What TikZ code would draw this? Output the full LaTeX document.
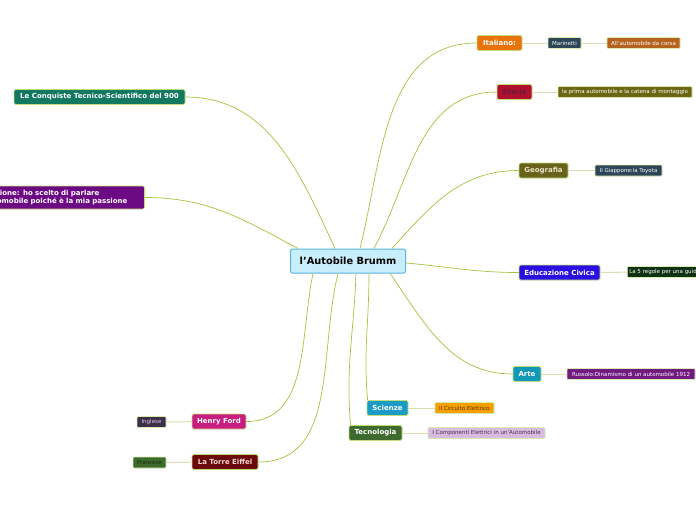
\documentclass[tikz,border=0pt]{standalone}
\usepackage{fontspec}
\setmainfont{DejaVu Sans}
\definecolor{rootfill}{HTML}{C8EEFC}\definecolor{rootline}{HTML}{5AB4E0}
\definecolor{rim}{HTML}{C0DC78}\definecolor{branchc}{HTML}{A0C43C}\definecolor{twigc}{HTML}{DCDCB0}
\definecolor{italianoc}{HTML}{E8730C}\definecolor{slatec}{HTML}{2C4658}\definecolor{corsac}{HTML}{B4621E}
\definecolor{storiac}{HTML}{B01030}\definecolor{storiat}{HTML}{6A1838}\definecolor{montaggioc}{HTML}{6B6612}
\definecolor{geografiac}{HTML}{68621A}\definecolor{geografiat}{HTML}{E8E4C8}
\definecolor{civicac}{HTML}{2A10E0}\definecolor{regolec}{HTML}{0E3212}
\definecolor{artec}{HTML}{1498B8}\definecolor{russoloc}{HTML}{701A82}
\definecolor{scienzec}{HTML}{1A9CC4}\definecolor{circuitoc}{HTML}{F4A000}\definecolor{circuitot}{HTML}{603000}
\definecolor{tecnologiac}{HTML}{3E6A30}\definecolor{componentic}{HTML}{D8BCE0}\definecolor{componentit}{HTML}{50285A}
\definecolor{fordc}{HTML}{C81C80}\definecolor{inglesec}{HTML}{3E2E4A}\definecolor{ingleset}{HTML}{D8D0E0}
\definecolor{torrec}{HTML}{6C0A0A}\definecolor{torret}{HTML}{F0D8D8}
\definecolor{francesec}{HTML}{3E6A2C}\definecolor{franceset}{HTML}{1A2A10}
\definecolor{conquistec}{HTML}{127860}\definecolor{introc}{HTML}{6C0A84}
\tikzset{
  root/.style={draw=rootline,fill=rootfill,line width=1pt,rounded corners=2pt,minimum width=115pt,minimum height=24pt,inner sep=2pt,font=\fontsize{9.8}{11}\selectfont\bfseries},
  topic/.style={draw=rim,fill=#1,line width=0.8pt,rounded corners=1.5pt,minimum height=15pt,inner xsep=3pt,inner ysep=1pt,text=white,font=\fontsize{7}{8}\selectfont\bfseries},
  leaf/.style={draw=rim!60,fill=#1,line width=0.6pt,rounded corners=1pt,minimum height=11pt,inner xsep=2pt,inner ysep=1pt,text=white,font=\fontsize{5.5}{6}\selectfont},
  branch/.style={draw=branchc,line width=0.7pt},
  twig/.style={draw=twigc,line width=1pt}
}
\begin{document}
\begin{tikzpicture}[x=1pt,y=-1pt]
\useasboundingbox (0,0) rectangle (696,520);
\node[root] (brumm) at (348,261) {l'Autobile Brumm};
% right side
\node[topic=italianoc,minimum width=45pt] (italiano) at (499.5,43) {Italiano:};
\node[leaf=slatec,minimum width=33pt] (marinetti) at (564.5,43) {Marinetti};
\node[leaf=corsac,minimum width=73pt] (corsa) at (643.5,43) {All'automobile da corsa};
\node[topic=storiac,text=storiat,minimum width=35pt] (storia) at (514.5,92) {Storia};
\node[leaf=montaggioc,minimum width=134pt] (montaggio) at (625,92) {la prima automobile e la catena di montaggio};
\node[topic=geografiac,text=geografiat,minimum width=49pt] (geografia) at (543.5,170.5) {Geografia};
\node[leaf=slatec,minimum width=67pt] (giappone) at (628.5,170.5) {Il Giappone:la Toyota};
\node[topic=civicac,minimum width=81pt] (civica) at (559.5,272.5) {Educazione Civica};
\node[leaf=regolec,anchor=west] (regole) at (627,272) {La 5 regole per una guida sicura};
\node[topic=artec,minimum width=28pt] (arte) at (527,374) {Arte};
\node[leaf=russoloc,minimum width=128pt] (russolo) at (631,374) {Russolo:Dinamismo di un automobile 1912};
\node[topic=scienzec,minimum width=41pt] (scienze) at (387.5,408) {Scienze};
\node[leaf=circuitoc,text=circuitot,minimum width=59pt] (circuito) at (464.5,408) {Il Circuito Elettrico};
\node[topic=tecnologiac,minimum width=53pt] (tecnologia) at (375.5,433) {Tecnologia};
\node[leaf=componentic,text=componentit,minimum width=117pt] (componenti) at (486.5,433) {I Componenti Elettrici in un'Automobile};
% left side
\node[topic=fordc,minimum width=54pt] (ford) at (219,421.5) {Henry Ford};
\node[leaf=inglesec,text=ingleset,minimum width=29pt] (inglese) at (151.5,422) {Inglese};
\node[topic=torrec,text=torret,minimum width=66pt] (torre) at (225,462) {La Torre Eiffel};
\node[leaf=francesec,text=franceset,minimum width=33pt] (francese) at (149.5,462.5) {Francese};
\node[topic=conquistec,minimum width=171pt] (conquiste) at (99.5,97) {Le Conquiste Tecnico-Scientifico del 900};
\node[topic=introc,anchor=east,align=left,text width=174pt,minimum height=23pt,inner xsep=4pt,inner ysep=2pt] (intro) at (145,197.5) {Introduzione: ho scelto di parlare\\dell'automobile poiché è la mia passione};
% branches
\draw[branch] ([xshift=12pt]brumm.north) to[out=76,in=180] (italiano.west);
\draw[branch] ([xshift=26pt]brumm.north) to[out=62,in=180] (storia.west);
\draw[branch] ([xshift=44pt]brumm.north) to[out=48,in=180] (geografia.west);
\draw[branch] ([yshift=-2pt]brumm.east) to[out=-5,in=180] (civica.west);
\draw[branch] ([xshift=42pt]brumm.south) to[out=-55,in=180] (arte.west);
\draw[branch] ([xshift=21pt]brumm.south) to[out=-90,in=95] ([xshift=1pt]scienze.north west);
\draw[branch] ([xshift=8pt]brumm.south) to[out=-92,in=95] ([xshift=2pt]tecnologia.north west);
\draw[branch] ([xshift=-35pt]brumm.south) to[out=-102,in=0] (ford.east);
\draw[branch] ([xshift=-10pt]brumm.south) to[out=-104,in=0] (torre.east);
\draw[branch] ([xshift=-13pt]brumm.north) to[out=115,in=0] (conquiste.east);
\draw[branch] ([xshift=-50pt]brumm.north) to[out=152,in=0] (intro.east);
% twigs
\draw[twig] (italiano) -- (marinetti);
\draw[twig] (marinetti) -- (corsa);
\draw[twig] (storia) -- (montaggio);
\draw[twig] (geografia) -- (giappone);
\draw[twig] (civica) -- (regole);
\draw[twig] (arte) -- (russolo);
\draw[twig] (scienze) -- (circuito);
\draw[twig] (tecnologia) -- (componenti);
\draw[twig] (ford) -- (inglese);
\draw[twig] (torre) -- (francese);
\end{tikzpicture}
\end{document}
